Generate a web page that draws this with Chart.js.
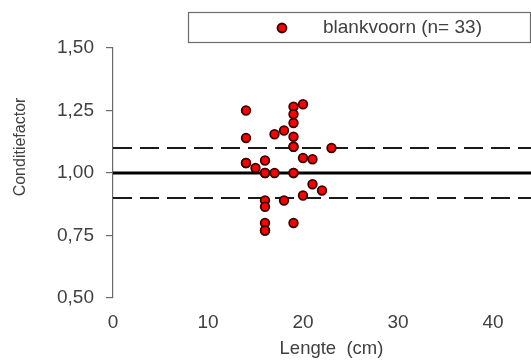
<!DOCTYPE html>
<html>
<head>
<meta charset="utf-8">
<script src="https://cdn.jsdelivr.net/npm/chart.js@4/dist/chart.umd.min.js"></script>
<style>
  html, body { margin: 0; padding: 0; background: #fff; overflow: hidden; width: 531px; height: 360px; }
  #wrap { position: absolute; left: 0; top: 0; width: 560px; height: 360px; }
</style>
</head>
<body>
<div id="wrap"><canvas id="c" width="560" height="360"></canvas></div>
<script>
// ---- data ----
const seriesLabel = 'blankvoorn (n= 33)';
const lengths = [14, 14, 14, 15, 16, 16, 16, 16, 16, 16, 17, 17, 18, 18,
                 19, 19, 19, 19, 19, 19, 19, 20, 20, 20, 21, 21, 22, 23,
                 16, 19, 16, 19, 14];
const condition = [1.25, 1.14, 1.04, 1.02, 1.05, 1.00, 0.89, 0.865, 0.80, 0.77, 1.155, 1.00, 1.17, 0.89,
                   1.265, 1.235, 1.20, 1.145, 1.105, 1.00, 0.80, 1.275, 1.06, 0.91, 1.055, 0.955, 0.93, 1.10,
                   1.00, 1.00, 0.77, 1.105, 1.04];
const refLevels = [1.10, 1.00, 0.90];          // upper band, norm, lower band
const xTicks = [0, 10, 20, 30, 40];
const yTicks = [0.50, 0.75, 1.00, 1.25, 1.50];
const xTitle = 'Lengte  (cm)';
const yTitle = 'Conditiefactor';

const X_MIN = 0, X_MAX = 46;
const textColor = '#404040';
const FONT = 'Liberation Sans, Arial, sans-serif';

const points = lengths.map((x, i) => ({ x: x, y: condition[i] }));
const lineDs = refLevels.map((lv) => ({
  type: 'line',
  data: [{ x: X_MIN, y: lv }, { x: X_MAX, y: lv }],
  borderColor: lv === 1 ? '#000000' : '#1a1a1a',
  borderWidth: lv === 1 ? 3.2 : 2,
  borderDash: lv === 1 ? [] : [19, 8],
  pointRadius: 0,
  fill: false,
  order: 2
}));

const customDraw = {
  id: 'customDraw',
  afterDraw(chart) {
    const ctx = chart.ctx;
    ctx.save();
    // legend box
    ctx.fillStyle = '#ffffff';
    ctx.fillRect(188.5, 12.5, 342, 30);
    ctx.strokeStyle = '#6b6b6b';
    ctx.lineWidth = 1.2;
    ctx.strokeRect(188.5, 12.5, 342, 30);
    const ds = chart.data.datasets[0];
    ctx.beginPath();
    ctx.arc(282, 28, 4.5, 0, Math.PI * 2);
    ctx.fillStyle = ds.backgroundColor;
    ctx.fill();
    ctx.lineWidth = 1.8;
    ctx.strokeStyle = ds.borderColor;
    ctx.stroke();
    ctx.fillStyle = textColor;
    ctx.font = '19px ' + FONT;
    ctx.textAlign = 'left';
    ctx.textBaseline = 'middle';
    ctx.fillText(ds.label, 323, 28);
    // y axis title
    ctx.translate(21, 147);
    ctx.rotate(-Math.PI / 2);
    ctx.textAlign = 'center';
    ctx.font = '16px ' + FONT;
    ctx.fillText(yTitle, 0, 0);
    ctx.restore();
  }
};

new Chart(document.getElementById('c'), {
  type: 'scatter',
  data: {
    datasets: [{
      label: seriesLabel,
      data: points,
      backgroundColor: '#ff0000',
      borderColor: '#3a0000',
      borderWidth: 1.8,
      pointRadius: 4.3,
      pointHoverRadius: 4.3,
      order: 0
    }].concat(lineDs)
  },
  options: {
    responsive: false,
    animation: false,
    layout: { padding: { top: 48, right: 10, left: 0, bottom: 0 } },
    plugins: { legend: { display: false }, tooltip: { enabled: false } },
    scales: {
      x: {
        type: 'linear',
        min: X_MIN, max: X_MAX,
        afterBuildTicks: (s) => { s.ticks = xTicks.map(v => ({ value: v })); },
        afterFit: (s) => { s.height = 62; },
        border: { display: false },
        grid: { display: false, drawTicks: false },
        ticks: { color: textColor, font: { size: 19, family: FONT }, padding: 13, maxRotation: 0,
                 callback: (v) => String(v) },
        title: { display: true, text: xTitle, color: textColor, font: { size: 18.5, family: FONT }, padding: { top: 0, bottom: 0 } }
      },
      y: {
        type: 'linear',
        min: 0.5, max: 1.5,
        afterBuildTicks: (s) => { s.ticks = yTicks.map(v => ({ value: v })); },
        afterFit: (s) => { s.width = 113; },
        border: { display: true, color: '#6a6a6a', width: 1.2 },
        grid: { display: true, drawOnChartArea: false, drawTicks: true, tickLength: 7, color: '#6a6a6a', lineWidth: 1.2 },
        ticks: { color: textColor, font: { size: 19, family: FONT }, padding: 12,
                 callback: (v) => Number(v).toFixed(2).replace('.', ',') }
      }
    }
  },
  plugins: [customDraw]
});
</script>
</body>
</html>
